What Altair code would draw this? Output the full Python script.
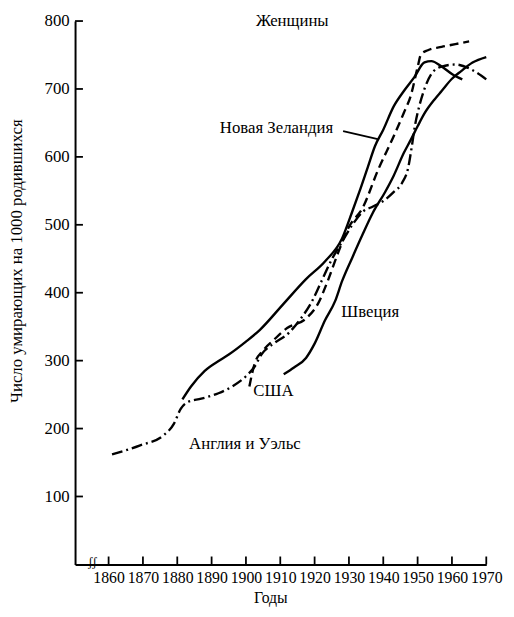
import altair as alt
import pandas as pd

# --- axis ticks ---
year_ticks = list(range(1860, 1971, 10))
value_ticks = list(range(100, 801, 100))

# --- series ---
eng_years = [1861, 1869, 1876, 1879, 1881, 1883, 1887, 1892, 1896, 1900, 1902.5, 1904.5,
             1908, 1912.5, 1916, 1919, 1922, 1925, 1928, 1931, 1934, 1937, 1940, 1943,
             1945.5, 1947.3, 1948.3, 1949.2, 1950.5, 1952, 1954, 1957, 1961, 1965.5, 1970]
eng_values = [162, 175, 190, 207, 229, 239, 244, 252, 262, 277, 291, 309,
              325, 341, 362, 385, 417, 449, 475, 500, 519, 527, 535, 548,
              562, 585, 615, 645, 675, 700, 722, 733, 736, 729, 714]

usa_years = [1901, 1902.5, 1905, 1908, 1912, 1917.5, 1921, 1923.8, 1927, 1930, 1934,
             1938.5, 1943, 1946, 1948, 1950, 1951, 1953, 1957, 1961, 1965]
usa_values = [262, 295, 315, 330, 348, 362, 384, 417, 461, 497, 525,
              581, 630, 665, 690, 732, 751, 757, 762, 766, 770]

nz_years = [1881.5, 1884, 1888, 1892.5, 1895, 1900, 1904, 1911, 1917.5, 1923, 1928, 1931,
            1933, 1935.5, 1937.6, 1940, 1943, 1946, 1949, 1952, 1954, 1957, 1960, 1963]
nz_values = [243, 262, 285, 301, 309, 328, 345, 384, 420, 446, 480, 520,
             548, 585, 616, 640, 674, 697, 717, 739, 741, 733, 722, 714]

swe_years = [1911, 1914, 1917.5, 1920, 1923, 1926, 1928, 1931, 1934, 1937, 1940.5, 1943,
             1946, 1948, 1950, 1952, 1955, 1957, 1960, 1962.6, 1966, 1970]
swe_values = [280, 290, 304, 325, 359, 388, 417, 452, 486, 518, 548, 572,
              606, 625, 645, 664, 685, 697, 715, 726, 739, 747]

# --- annotations ---
label_texts = ["Женщины", "Новая Зеландия", "Швеция", "США", "Англия и Уэльс"]
label_years = [1913.5, 1908.9, 1936.2, 1908.0, 1899.7]
label_values = [800, 642, 371, 255, 177]

leader_years = [1928.3]
leader_years2 = [1938.4]
leader_values = [638]
leader_values2 = [626]

FONT = "Liberation Serif"
W, H = 417, 551

X = alt.X("year:Q",
          scale=alt.Scale(domain=[1850.23, 1970], nice=False, zero=False),
          axis=alt.Axis(values=year_ticks, format="d", title="Годы", grid=False,
                        ticks=False, tickSize=0, labelPadding=5, labelFontSize=16,
                        labelFont=FONT, labelColor="black", labelOverlap=False,
                        labelFlush=False, labelBound=False,
                        domainColor="black", domainWidth=2,
                        titleFont=FONT, titleFontSize=16, titleFontWeight="normal",
                        titleColor="black", titleX=198, titleY=34,
                        titleBaseline="middle", titleAnchor="middle"))
Y = alt.Y("value:Q",
          scale=alt.Scale(domain=[0, 800], nice=False),
          axis=alt.Axis(values=value_ticks, title="Число умирающих на 1000 родившихся",
                        grid=False, ticks=False, tickSize=0, labelPadding=6,
                        labelFontSize=17, labelFont=FONT, labelColor="black",
                        labelOverlap=False, labelBound=False, labelFlush=False,
                        domainColor="black", domainWidth=2,
                        titleFont=FONT, titleFontSize=17, titleFontWeight="normal",
                        titleColor="black", titleX=-59, titleY=243,
                        titleBaseline="middle", titleAngle=-90))


def frame(years, values):
    return pd.DataFrame({"year": years, "value": values})


def line(years, values, dash=None):
    kw = dict(color="black", strokeWidth=2.4, interpolate="monotone")
    if dash:
        kw["strokeDash"] = dash
    return alt.Chart(frame(years, values)).mark_line(**kw).encode(x=X, y=Y)


eng = line(eng_years, eng_values, [11, 4, 2, 4])
usa = line(usa_years, usa_values, [9, 5])
nz = line(nz_years, nz_values)
swe = line(swe_years, swe_values)

labels = alt.Chart(pd.DataFrame({"year": label_years, "value": label_values,
                                 "text": label_texts})).mark_text(
    font=FONT, fontSize=17, color="black", align="center", baseline="middle"
).encode(x=X, y=Y, text="text:N")

leader = alt.Chart(pd.DataFrame({"year": leader_years, "year2": leader_years2,
                                 "value": leader_values, "value2": leader_values2})).mark_rule(
    color="black", strokeWidth=1.8
).encode(x=X, x2="year2:Q", y=Y, y2="value2:Q")

xt = alt.Chart(pd.DataFrame({"year": year_ticks})).mark_rule(color="black", strokeWidth=1.8).encode(
    x=X, y=alt.value(H), y2=alt.value(H - 8))
yt = alt.Chart(pd.DataFrame({"value": value_ticks})).mark_rule(color="black", strokeWidth=1.8).encode(
    y=Y, x=alt.value(0), x2=alt.value(8))

brk = alt.Chart(pd.DataFrame({"year": [1855.3], "value": [0], "text": ["ʃʃ"]})).mark_text(
    font=FONT, fontSize=13, color="black", align="center", baseline="middle", dy=-2
).encode(x=X, y=Y, text="text:N")

chart = alt.layer(xt, yt, eng, usa, nz, swe, labels, leader, brk).properties(
    width=W, height=H,
    autosize=alt.AutoSizeParams(type="none"),
    padding={"left": 68, "top": 9, "right": 20, "bottom": 41},
    background="white",
).configure_view(stroke=None)

chart.save("out.html", embed_options={"renderer": "svg", "actions": False})
